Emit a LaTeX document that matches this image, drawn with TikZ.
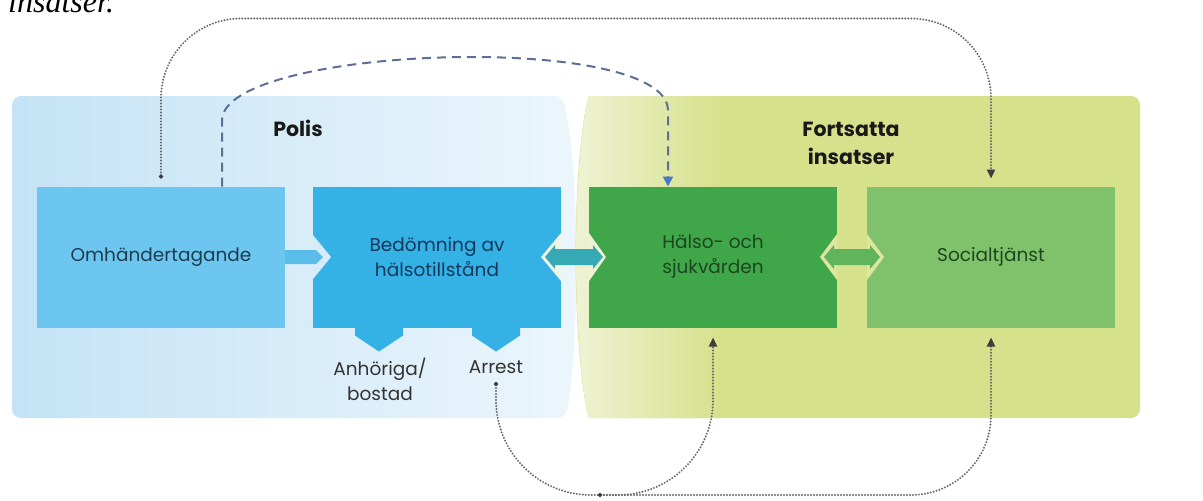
\documentclass[tikz,border=0pt]{standalone}
\usepackage{fontspec}
\setmainfont{Poppins}
\newfontfamily\timesfont{Liberation Serif}
\usepackage{tikz}
\usepackage{xcolor}
\usetikzlibrary{positioning}
\usetikzlibrary{calc}
\usetikzlibrary{arrows.meta}
\definecolor{polisL}{RGB}{196, 227, 246}
\definecolor{polisR}{RGB}{236, 246, 252}
\definecolor{polisband}{RGB}{215, 236, 249}
\definecolor{insatsG}{RGB}{214, 225, 140}
\definecolor{insatsL}{RGB}{239, 243, 214}
\definecolor{gapcream}{RGB}{240, 244, 232}
\definecolor{greenband}{RGB}{222, 230, 158}
\definecolor{omhblue}{RGB}{108, 198, 239}
\definecolor{bedblue}{RGB}{52, 178, 230}
\definecolor{halsgreen}{RGB}{64, 166, 74}
\definecolor{socgreen}{RGB}{128, 194, 108}
\definecolor{arrowlb}{RGB}{90, 189, 233}
\definecolor{arrowteal}{RGB}{54, 170, 180}
\definecolor{arrowgreen}{RGB}{95, 180, 92}
\definecolor{dashblue}{RGB}{92, 112, 150}
\definecolor{tipblue}{RGB}{72, 122, 196}
\definecolor{dotgrey}{RGB}{105, 105, 105}
\definecolor{tipgrey}{RGB}{60, 60, 60}
\definecolor{omhtext}{RGB}{30, 60, 80}
\definecolor{bedtext}{RGB}{20, 55, 90}
\definecolor{greentext}{RGB}{28, 70, 30}
\newcommand{\boxfont}{\fontsize{18.5}{25}\selectfont}
\newcommand{\headfont}{\fontsize{20.5}{28}\selectfont\bfseries}
\tikzstyle{stepface} = [
	minimum width=248pt,
	minimum height=141pt,
	inner sep=0pt,
	outer sep=0pt,
	align=center,
	font=\boxfont
]
\tikzstyle{omhface} = [stepface, fill=omhblue, text=omhtext]
\tikzstyle{bedface} = [stepface, fill=bedblue, text=bedtext]
\tikzstyle{halsface} = [stepface, fill=halsgreen, text=greentext]
\tikzstyle{socface} = [stepface, fill=socgreen, text=greentext]
\tikzstyle{heading} = [align=center, font=\headfont, text=black!90]
\tikzstyle{outcome} = [align=center, font=\boxfont, text=black!80]
\tikzstyle{flowdot} = [
	dotgrey,
	line width=2.2pt,
	line cap=round,
	dash pattern=on 0pt off 3pt
]
\tikzstyle{flowdash} = [
	dashblue,
	line width=2pt,
	dash pattern=on 9pt off 6pt
]

\begin{document}
\begin{tikzpicture}[node distance=0pt and 28pt, x=1pt, y=-1pt]
	\useasboundingbox (0,0) rectangle (1203,501);

	% caption line cut off above
	\node[anchor=base west, inner sep=0pt, font=\timesfont\itshape\fontsize{32}{34}\selectfont] (cut) at (8,12) {insatser.};

	% Polis panel
	\shade[left color=polisL, middle color=polisL, right color=polisR, rounded corners=9pt]
		(12,96) -- (563,96) .. controls (580,180) and (580,330) .. (566,418) -- (12,418) -- cycle;

	% Fortsatta insatser panel
	\fill[insatsG, rounded corners=9pt]
		(1140,96) -- (1140,418) -- (588,418) .. controls (572,330) and (572,180) .. (588,96) -- cycle;
	\begin{scope}
		\clip (1140,96) -- (1140,418) -- (588,418) .. controls (572,330) and (572,180) .. (588,96) -- cycle;
		\shade[left color=insatsL, right color=insatsG] (572,96) rectangle (720,418);
	\end{scope}

	\node[heading] (polis) at (298,128) {Polis};
	\node[heading] (fortsatta) at (851,143) {Fortsatta\\insatser};

	% steps
	\node[omhface] (omh) at (161,257) {Omhändertagande};
	\node[bedface, right=of omh] (bed) {Bedömning av\\hälsotillstånd};
	\node[halsface, right=of bed] (hals) {Hälso- och\\sjukvården};
	\node[socface, right=30pt of hals] (soc) {Socialtjänst};

	% tabs below the assessment
	\fill[bedblue] ($(bed.south west)+(42,0)$) -- ++(0,8) -- ++(24,16) -- ++(24,-16) -- ++(0,-8) -- cycle;
	\fill[bedblue] ($(bed.south west)+(159,0)$) -- ++(0,8) -- ++(24,16) -- ++(24,-16) -- ++(0,-8) -- cycle;
	\node[outcome] (anh) at (380,379) {Anhöriga/\\bostad};
	\node[outcome] (arrest) at (496,367) {Arrest};

	% notches
	\fill[polisband] ($(bed.west)+(0,-22)$) -- ($(bed.west)+(18,0)$) -- ($(bed.west)+(0,22)$) -- cycle;
	\fill[gapcream] ($(bed.east)+(0,-24)$) -- ($(bed.east)+(-20,0)$) -- ($(bed.east)+(0,24)$) -- cycle;
	\fill[insatsL] ($(hals.west)+(0,-24)$) -- ($(hals.west)+(17,0)$) -- ($(hals.west)+(0,24)$) -- cycle;
	\fill[greenband] ($(hals.east)+(0,-23)$) -- ($(hals.east)+(-17,0)$) -- ($(hals.east)+(0,23)$) -- cycle;
	\fill[greenband] ($(soc.west)+(0,-23)$) -- ($(soc.west)+(17,0)$) -- ($(soc.west)+(0,23)$) -- cycle;

	% block arrows
	\fill[arrowlb] ($(omh.east)+(0,-7)$) -- ($(bed.west)+(3,-7)$) -- ($(bed.west)+(10,0)$) -- ($(bed.west)+(3,7)$) -- ($(omh.east)+(0,7)$) -- cycle;
	\fill[arrowteal] ($(bed.east)+(-16,0)$) -- ($(bed.east)+(-6,-12)$) -- ($(bed.east)+(-6,-8)$) -- ($(hals.west)+(4,-8)$) -- ($(hals.west)+(4,-12)$) -- ($(hals.west)+(14,0)$)
		-- ($(hals.west)+(4,12)$) -- ($(hals.west)+(4,8)$) -- ($(bed.east)+(-6,8)$) -- ($(bed.east)+(-6,12)$) -- cycle;
	\fill[arrowgreen] ($(hals.east)+(-13,0)$) -- ($(hals.east)+(-3,-12)$) -- ($(hals.east)+(-3,-8)$) -- ($(soc.west)+(3,-8)$) -- ($(soc.west)+(3,-12)$) -- ($(soc.west)+(13,0)$)
		-- ($(soc.west)+(3,12)$) -- ($(soc.west)+(3,8)$) -- ($(hals.east)+(-3,8)$) -- ($(hals.east)+(-3,12)$) -- cycle;

	% links
	\draw[flowdot, rounded corners=80pt, {Circle[length=4pt, color=tipgrey]}-{Triangle[length=9pt, width=8pt, color=tipgrey]}]
		([yshift=8pt]omh.north) -- ++(0,-160) -| ([yshift=8pt]soc.north);
	\draw[flowdash, -{Triangle[length=10pt, width=10pt, color=tipblue]}]
		([xshift=61pt]omh.north) -- ++(0,-66) .. controls +(0,-75) and ([xshift=-45pt,yshift=156pt]hals.north) .. ([xshift=-45pt,yshift=76pt]hals.north) -- ([xshift=-45pt]hals.north);
	\draw[flowdot, rounded corners=95pt, {Circle[length=4pt, color=tipgrey]}-{Triangle[length=9pt, width=8pt, color=tipgrey]}]
		([yshift=-15pt]arrest.center) -- ++(0,113) -| ([yshift=-10pt]hals.south);
	\coordinate (split) at (598,495);
	\draw[flowdot, rounded corners=80pt, {Circle[length=4pt, color=tipgrey]}-{Triangle[length=9pt, width=8pt, color=tipgrey]}]
		(split) -| ([yshift=-10pt]soc.south);
\end{tikzpicture}
\end{document}
